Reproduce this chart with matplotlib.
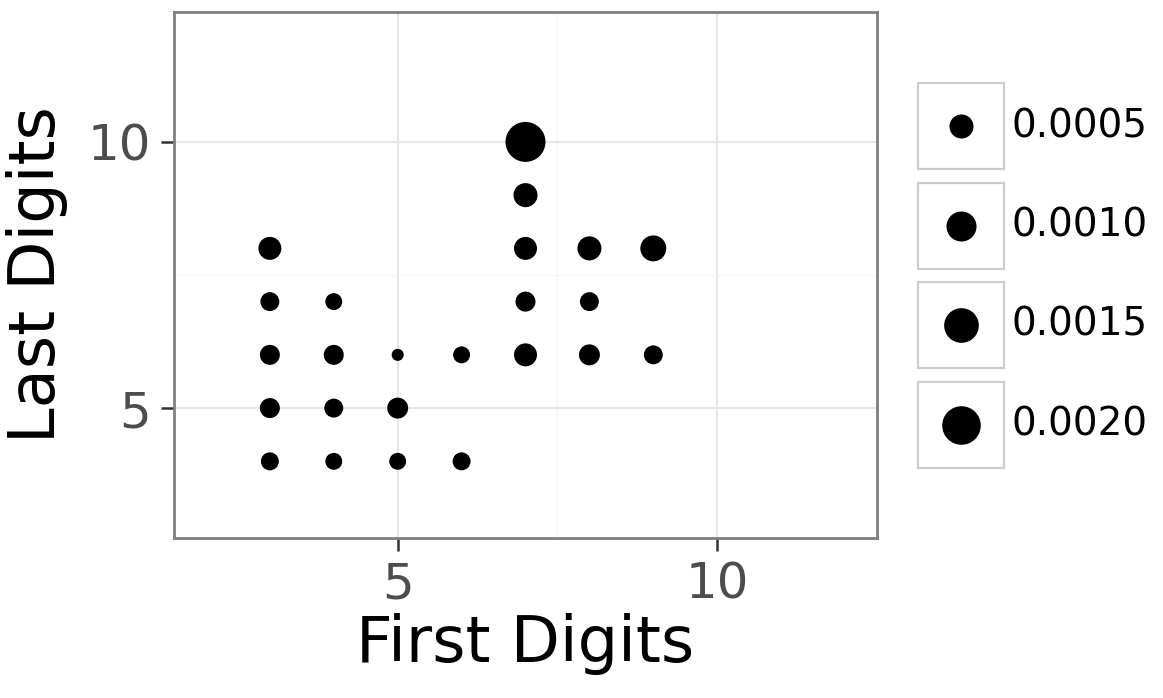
import numpy as np
import matplotlib
matplotlib.use("Agg")
import matplotlib.pyplot as plt
from matplotlib.patches import Rectangle

# point data (first digit, last digit, proportion)
first_digits = [3, 3, 3, 3, 3, 4, 4, 4, 4, 5, 5, 5, 6, 6, 7, 7, 7, 7, 7, 8, 8, 8, 9, 9]
last_digits = [8, 7, 6, 5, 4, 7, 6, 5, 4, 6, 5, 4, 6, 4, 10, 9, 8, 7, 6, 8, 7, 6, 8, 6]
proportions = [0.00043, 0.00021, 0.00026, 0.00026, 0.00017,
               0.00013, 0.00026, 0.00021, 0.00013,
               0.000015, 0.00031, 0.00013,
               0.00013, 0.00017,
               0.0022, 0.0005, 0.00043, 0.00026, 0.00043,
               0.0005, 0.00021, 0.00031,
               0.00064, 0.00021]
legend_values = [0.0005, 0.0010, 0.0015, 0.0020]
legend_labels = ["0.0005", "0.0010", "0.0015", "0.0020"]

W, H, DPI = 1163, 698, 100


def marker_area(v):
    # diameter in px grows with sqrt(value), like ggplot's area scale
    d_px = 9.5 + 650 * np.sqrt(np.asarray(v))
    return (d_px * 72 / DPI) ** 2


fig = plt.figure(figsize=(W / DPI, H / DPI), dpi=DPI)
ax = fig.add_axes([174 / W, 1 - 538 / H, (877 - 174) / W, (538 - 12) / H])

ax.scatter(first_digits, last_digits, s=marker_area(proportions), c="black",
           linewidths=0, zorder=3)

ax.set_xlim(1.5, 12.5)
ax.set_ylim(2.56, 12.44)
ax.set_xticks([5, 10])
ax.set_yticks([5, 10])
ax.set_xticks([7.5], minor=True)
ax.set_yticks([7.5], minor=True)
ax.grid(which="major", color="#e6e6e6", lw=1.6, zorder=0)
ax.grid(which="minor", color="#f4f4f4", lw=0.8, zorder=0)
ax.set_axisbelow(True)
for sp in ax.spines.values():
    sp.set_color("#7f7f7f")
    sp.set_linewidth(2.0)
ax.tick_params(which="major", length=9.5, width=1.8, color="#333333",
               labelsize=36, labelcolor="#4d4d4d", pad=7)
ax.tick_params(which="minor", length=0)

ax.set_xlabel("First Digits", fontsize=46, labelpad=3)
ax.set_ylabel("Last Digits", fontsize=46, labelpad=14)

# legend drawn by hand in pixel coordinates
lax = fig.add_axes([0, 0, 1, 1])
lax.set_xlim(0, W)
lax.set_ylim(H, 0)
lax.axis("off")
for i, (val, lab) in enumerate(zip(legend_values, legend_labels)):
    top = 83 + i * 99.5
    lax.add_patch(Rectangle((918, top), 86, 86, fill=False,
                            edgecolor="#cccccc", lw=1.6))
    lax.scatter([961], [top + 43], s=marker_area([val]), c="black", linewidths=0)
    lax.text(1012, top + 43, lab, fontsize=28, va="center", ha="left")

fig.savefig("out.png", dpi=DPI)
